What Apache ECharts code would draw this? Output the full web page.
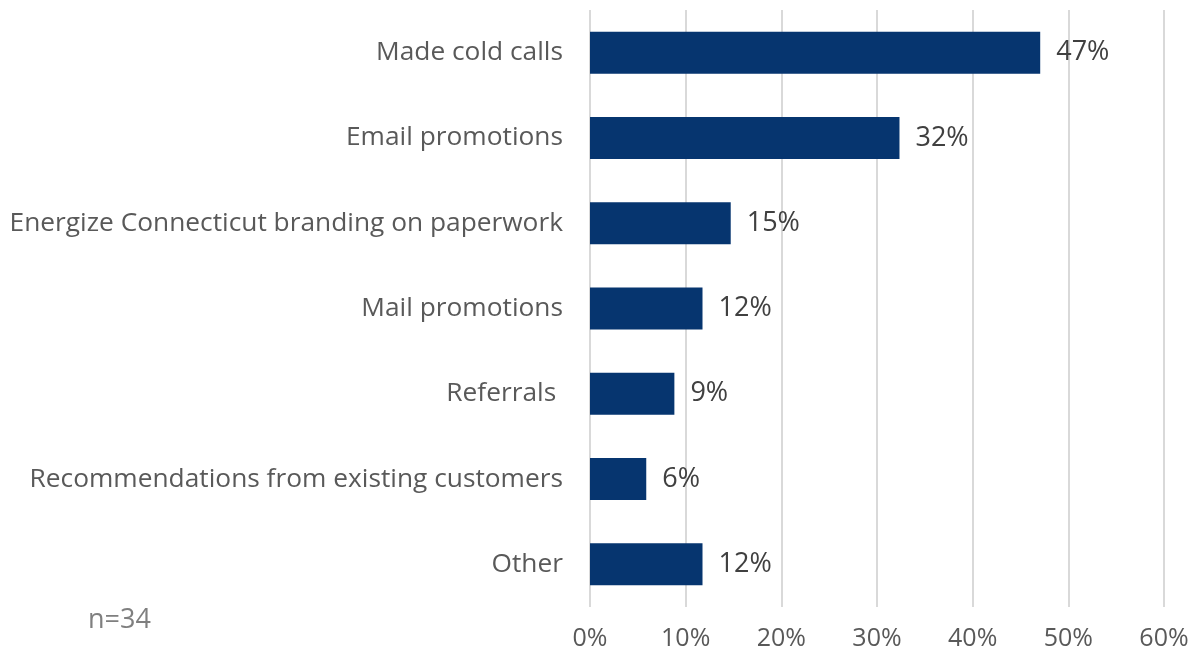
<!DOCTYPE html>
<html><head><meta charset="utf-8">
<script src="https://cdn.jsdelivr.net/npm/echarts@6/dist/echarts.min.js"></script>
<style>html,body{margin:0;padding:0;background:#fff}#c{width:1193px;height:651px}</style>
</head><body><div id="c"></div>
<script>
const categories = ["Made cold calls", "Email promotions", "Energize Connecticut branding on paperwork", "Mail promotions", "Referrals ", "Recommendations from existing customers", "Other"];
const values = [47.06, 32.35, 14.71, 11.76, 8.82, 5.88, 11.76];
const tickMax = 60;
const tickStep = 10;
const note = "n=34";

const FONT = "'Open Sans', 'Liberation Sans', sans-serif";
const chart = echarts.init(document.getElementById('c'), null, {renderer: 'canvas'});
chart.setOption({
  animation: false,
  backgroundColor: '#fff',
  grid: {left: 590, right: 29, top: 10, bottom: 42},
  xAxis: {
    type: 'value', min: 0, max: tickMax, interval: tickStep,
    axisLine: {show: false}, axisTick: {show: false},
    splitLine: {show: true, lineStyle: {color: '#d9d9d9', width: 2}},
    axisLabel: {formatter: '{value}%', color: '#595959', fontSize: 25, fontFamily: FONT, margin: 19}
  },
  yAxis: {
    type: 'category', data: categories, inverse: true,
    axisLine: {show: false}, axisTick: {show: false},
    axisLabel: {color: '#595959', fontSize: 26.3, fontFamily: FONT, margin: 27}
  },
  series: [{
    type: 'bar', data: values, barWidth: 42,
    itemStyle: {color: '#06356f'},
    label: {show: true, position: 'right', distance: 16, color: '#404040', fontSize: 27, fontFamily: FONT,
      formatter: p => Math.round(p.value) + '%'}
  }],
  graphic: [{
    type: 'text', left: 88, top: 607,
    style: {text: note, fill: '#7f7f7f', fontSize: 27, fontFamily: FONT}
  }]
});
</script></body></html>
